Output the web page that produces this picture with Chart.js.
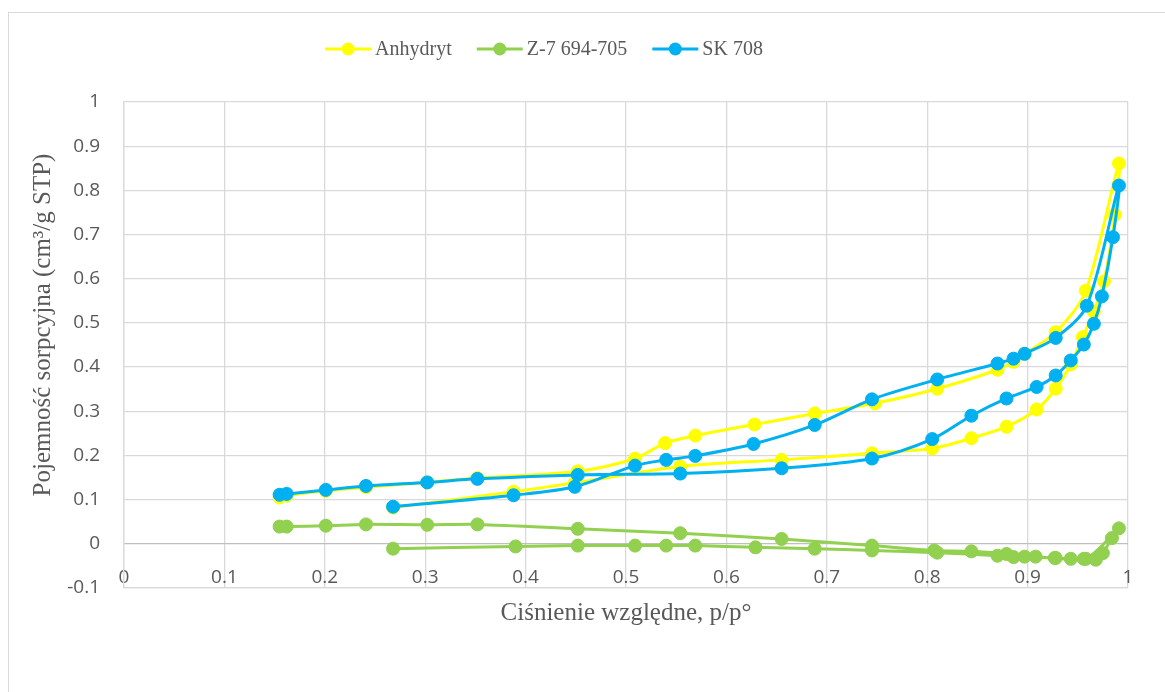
<!DOCTYPE html>
<html>
<head>
<meta charset="utf-8">
<script src="https://cdn.jsdelivr.net/npm/chart.js@4"></script>
<style>
    html, body { margin: 0; padding: 0; background: #fff; }
    #wrap { width: 1165px; height: 692px; }
</style>
</head>
<body>
<div id="wrap"><canvas id="myChart"></canvas></div>
<script>
/* globals Chart:false */

const seriesNames = ['Anhydryt', 'Z-7 694-705', 'SK 708']
const seriesColors = ['#FFFF00', '#92D050', '#00B0F0']

// relative pressure p/p0 and sorption capacity, one loop per sample
const anhydrytX = [0.268, 0.388, 0.449, 0.554, 0.655, 0.745, 0.805, 0.844, 0.879, 0.909, 0.928, 0.943,
    0.955, 0.966, 0.976, 0.987, 0.991, 0.958, 0.928, 0.897, 0.886, 0.870, 0.810, 0.748, 0.688, 0.628,
    0.569, 0.539, 0.509, 0.452, 0.352, 0.302, 0.241, 0.201, 0.162, 0.155]
const anhydrytY = [0.082, 0.118, 0.138, 0.175, 0.190, 0.205, 0.216, 0.239, 0.265, 0.304, 0.351, 0.406,
    0.468, 0.525, 0.594, 0.745, 0.861, 0.573, 0.479, 0.430, 0.412, 0.394, 0.351, 0.318, 0.295, 0.270,
    0.245, 0.228, 0.193, 0.164, 0.149, 0.139, 0.128, 0.120, 0.109, 0.105]

const z7X = [0.268, 0.390, 0.452, 0.509, 0.540, 0.569, 0.629, 0.688, 0.745, 0.810, 0.870, 0.886, 0.897,
    0.928, 0.958, 0.991, 0.984, 0.975, 0.968, 0.956, 0.943, 0.927, 0.908, 0.879, 0.844, 0.807, 0.745,
    0.655, 0.554, 0.452, 0.352, 0.302, 0.241, 0.201, 0.162, 0.155]
const z7Y = [-0.011, -0.006, -0.004, -0.004, -0.004, -0.004, -0.008, -0.011, -0.015, -0.020, -0.027, -0.030, -0.029,
    -0.032, -0.034, 0.035, 0.013, -0.021, -0.036, -0.034, -0.034, -0.032, -0.029, -0.023, -0.017, -0.015, -0.004,
    0.011, 0.024, 0.034, 0.044, 0.043, 0.044, 0.041, 0.039, 0.039]

const skX = [0.268, 0.388, 0.449, 0.509, 0.540, 0.569, 0.627, 0.688, 0.745, 0.810, 0.870, 0.886, 0.897,
    0.928, 0.959, 0.991, 0.985, 0.974, 0.966, 0.956, 0.943, 0.928, 0.909, 0.879, 0.844, 0.805, 0.745,
    0.655, 0.554, 0.452, 0.352, 0.302, 0.241, 0.201, 0.162, 0.155]
const skY = [0.084, 0.110, 0.129, 0.177, 0.190, 0.199, 0.226, 0.269, 0.327, 0.372, 0.408, 0.419, 0.430,
    0.466, 0.539, 0.811, 0.694, 0.560, 0.498, 0.451, 0.415, 0.381, 0.355, 0.329, 0.290, 0.237, 0.193,
    0.171, 0.159, 0.156, 0.147, 0.139, 0.131, 0.122, 0.113, 0.111]

const xLabel = 'Ciśnienie względne, p/p°'
const yLabel = 'Pojemność sorpcyjna (cm³/g STP)'

const textColor = '#595959'
const gridColor = '#d9d9d9'

function points(xs, ys) {
    let out = []
    for (let i = 0; i < xs.length; i++) {
        out.push({x: xs[i], y: ys[i]})
    }
    return out
}

function series(i, xs, ys) {
    return {
        label: seriesNames[i],
        data: points(xs, ys),
        showLine: true,
        borderColor: seriesColors[i],
        backgroundColor: seriesColors[i],
        pointBackgroundColor: seriesColors[i],
        pointBorderColor: seriesColors[i],
        borderWidth: 3,
        pointRadius: 6.5,
        pointBorderWidth: 1,
        tension: 0.3,
        order: 3 - i
    }
}

// outer frame, y title and the legend row
const decorations = {
    id: 'decorations',
    beforeDraw(chart) {
        const ctx = chart.ctx
        ctx.save()
        ctx.fillStyle = '#fff'
        ctx.fillRect(0, 0, chart.width, chart.height)
        ctx.strokeStyle = gridColor
        ctx.lineWidth = 1
        ctx.strokeRect(8.5, 12.5, 1300, 800)
        ctx.restore()
    },
    afterDraw(chart) {
        const ctx = chart.ctx
        ctx.save()
        ctx.fillStyle = textColor
        ctx.font = '25px "Liberation Serif"'
        ctx.textAlign = 'center'
        ctx.textBaseline = 'middle'
        ctx.translate(43, 325)
        ctx.rotate(-Math.PI / 2)
        ctx.fillText(yLabel, 0, 0)
        ctx.restore()

        ctx.save()
        ctx.font = '20px "Liberation Serif"'
        ctx.textBaseline = 'middle'
        const marker = 46, gap = 4, spacing = 25
        const widths = chart.data.datasets.map(ds => marker + gap + ctx.measureText(ds.label).width)
        let total = widths.reduce((a, b) => a + b, 0) + spacing * (widths.length - 1)
        let x = 544 - total / 2
        const y = 49
        chart.data.datasets.forEach((ds, i) => {
            ctx.strokeStyle = ds.borderColor
            ctx.lineWidth = 3
            ctx.beginPath()
            ctx.moveTo(x, y)
            ctx.lineTo(x + marker, y)
            ctx.stroke()
            ctx.fillStyle = ds.borderColor
            ctx.beginPath()
            ctx.arc(x + marker / 2, y, 6.5, 0, Math.PI * 2)
            ctx.fill()
            ctx.fillStyle = textColor
            ctx.fillText(ds.label, x + marker + gap, y + 1)
            x += widths[i] + spacing
        })
        ctx.restore()
    }
}

const ctx = document.getElementById('myChart')
const myChart = new Chart(ctx, {
    type: 'scatter',
    data: {
        datasets: [
            series(0, anhydrytX, anhydrytY),
            series(1, z7X, z7Y),
            series(2, skX, skY)
        ]
    },
    plugins: [decorations],
    options: {
        responsive: true,
        maintainAspectRatio: false,
        animation: false,
        layout: {
            padding: {top: 102, right: 37, bottom: 64, left: 0}
        },
        plugins: {
            legend: {display: false},
            tooltip: {enabled: false}
        },
        scales: {
            x: {
                type: 'linear',
                min: 0,
                max: 1,
                afterFit: (scale) => { scale.height = 40 },
                ticks: {
                    stepSize: 0.1,
                    // labels sit just above the bottom edge, inside the plot
                    mirror: true,
                    padding: -1,
                    color: textColor,
                    font: {family: 'Open Sans', size: 19},
                    callback: (v) => String(+v.toFixed(1))
                },
                grid: {
                    color: gridColor,
                    lineWidth: 1.3,
                    drawTicks: false
                },
                border: {color: gridColor, width: 1.3},
                title: {
                    display: true,
                    text: xLabel,
                    color: textColor,
                    font: {family: 'Liberation Serif', size: 25},
                    padding: 0
                }
            },
            y: {
                type: 'linear',
                min: -0.1,
                max: 1,
                afterFit: (scale) => { scale.width = 124 },
                ticks: {
                    stepSize: 0.1,
                    padding: 24,
                    color: textColor,
                    font: {family: 'Open Sans', size: 19},
                    callback: (v) => String(+v.toFixed(1))
                },
                grid: {
                    color: (c) => (c.tick && Math.abs(c.tick.value) < 1e-9) ? '#bfbfbf' : gridColor,
                    lineWidth: 1.3,
                    drawTicks: false
                },
                border: {color: gridColor, width: 1.3}
            }
        }
    }
})
</script>
</body>
</html>
